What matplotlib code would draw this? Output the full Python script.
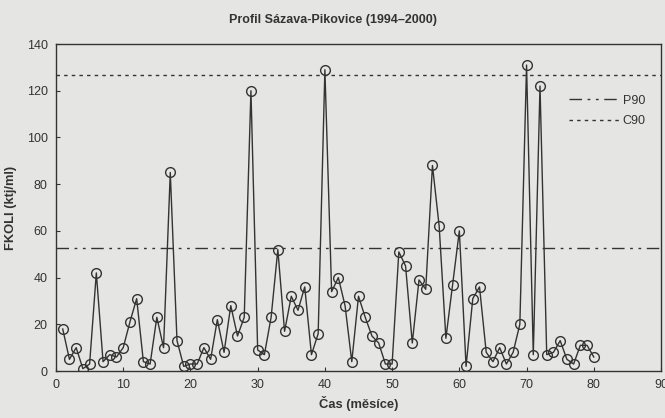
import matplotlib
matplotlib.use("Agg")
import matplotlib.pyplot as plt

# monthly FKOLI counts, profile Sázava-Pikovice
months = list(range(1, 81))
fkoli = [18, 5, 10, 1, 3, 42, 4, 7, 6, 10,
         21, 31, 4, 3, 23, 10, 85, 13, 2, 3,
         3, 10, 5, 22, 8, 28, 15, 23, 120, 9,
         7, 23, 52, 17, 32, 26, 36, 7, 16, 129,
         34, 40, 28, 4, 32, 23, 15, 12, 3, 3,
         51, 45, 12, 39, 35, 88, 62, 14, 37, 60,
         2, 31, 36, 8, 4, 10, 3, 8, 20, 131,
         7, 122, 7, 8, 13, 5, 3, 11, 11, 6]
p90 = 52.8
c90 = 126.7

xticks = [0, 10, 20, 30, 40, 50, 60, 70, 80, 90]
yticks = [0, 20, 40, 60, 80, 100, 120, 140]

plt.rcParams['font.family'] = ['Liberation Sans', 'DejaVu Sans']
ink = '#333333'
bg = '#e5e5e3'

fig = plt.figure(figsize=(6.65, 4.18), dpi=100, facecolor=bg)
ax = fig.add_axes([0.0842, 0.1124, 0.9098, 0.7823], facecolor=bg)

ax.plot(months, fkoli, color=ink, linewidth=1.0, marker='o', markersize=7,
        markerfacecolor='none', markeredgecolor=ink, markeredgewidth=1.0)
ax.axhline(p90, color=ink, linewidth=1.0, linestyle=(0, (9, 4, 2, 4, 2, 4)), label='P90')
ax.axhline(c90, color=ink, linewidth=1.0, linestyle=(0, (2.5, 3)), label='C90')

ax.set_xlim(0, 90)
ax.set_ylim(0, 140)
ax.set_xticks(xticks)
ax.set_yticks(yticks)
ax.tick_params(direction='in', length=3, colors=ink, labelsize=9, pad=6)
for s in ax.spines.values():
    s.set_color(ink)
    s.set_linewidth(1.0)

ax.set_title('Profil Sázava-Pikovice (1994–2000)', fontsize=9, fontweight='bold',
             color=ink, pad=15, x=0.458)
ax.set_xlabel('Čas (měsíce)', fontsize=9.3, fontweight='bold', color=ink, labelpad=3)
ax.set_ylabel('FKOLI (ktj/ml)', fontsize=9.3, fontweight='bold', color=ink, labelpad=7)

leg = ax.legend(loc='upper right', bbox_to_anchor=(0.993, 0.88), frameon=False,
                fontsize=9, handlelength=4.0, handletextpad=0.3, labelspacing=0.7)
for t in leg.get_texts():
    t.set_color(ink)

fig.savefig('out.png', dpi=100, facecolor=bg)
